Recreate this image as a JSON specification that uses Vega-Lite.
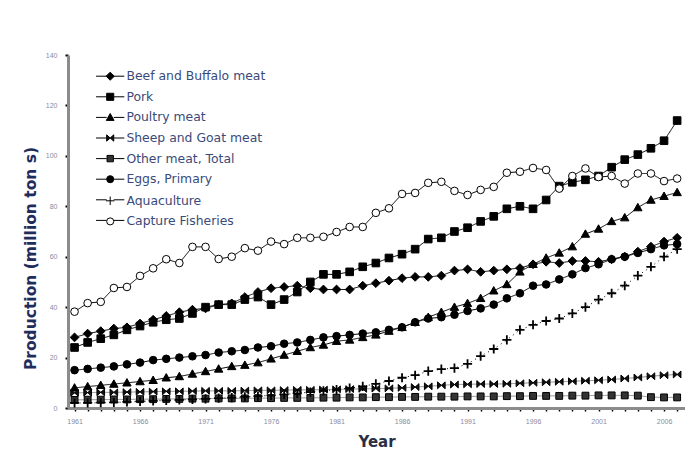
{
  "$schema": "https://vega.github.io/schema/vega-lite/v6.json",
  "width": 617,
  "height": 353,
  "autosize": {"type": "none"},
  "padding": {"left": 68, "top": 55, "right": 0, "bottom": 44},
  "background": "white",
  "config": {"view": {"stroke": null}},
  "datasets": {
    "prod": [
{"year":1961,"series":"Beef and Buffalo meat","value":28},{"year":1962,"series":"Beef and Buffalo meat","value":29.5},{"year":1963,"series":"Beef and Buffalo meat","value":30.5},{"year":1964,"series":"Beef and Buffalo meat","value":31.5},{"year":1965,"series":"Beef and Buffalo meat","value":32},{"year":1966,"series":"Beef and Buffalo meat","value":33.5},{"year":1967,"series":"Beef and Buffalo meat","value":35},{"year":1968,"series":"Beef and Buffalo meat","value":36.5},{"year":1969,"series":"Beef and Buffalo meat","value":38},{"year":1970,"series":"Beef and Buffalo meat","value":39},{"year":1971,"series":"Beef and Buffalo meat","value":39.5},{"year":1972,"series":"Beef and Buffalo meat","value":41},{"year":1973,"series":"Beef and Buffalo meat","value":41.5},{"year":1974,"series":"Beef and Buffalo meat","value":44},{"year":1975,"series":"Beef and Buffalo meat","value":46},{"year":1976,"series":"Beef and Buffalo meat","value":47.5},{"year":1977,"series":"Beef and Buffalo meat","value":48},{"year":1978,"series":"Beef and Buffalo meat","value":48.5},{"year":1979,"series":"Beef and Buffalo meat","value":47.5},{"year":1980,"series":"Beef and Buffalo meat","value":47},{"year":1981,"series":"Beef and Buffalo meat","value":47},{"year":1982,"series":"Beef and Buffalo meat","value":47},{"year":1983,"series":"Beef and Buffalo meat","value":48.5},{"year":1984,"series":"Beef and Buffalo meat","value":49.5},{"year":1985,"series":"Beef and Buffalo meat","value":50.5},{"year":1986,"series":"Beef and Buffalo meat","value":51.5},{"year":1987,"series":"Beef and Buffalo meat","value":52},{"year":1988,"series":"Beef and Buffalo meat","value":52},{"year":1989,"series":"Beef and Buffalo meat","value":52.5},{"year":1990,"series":"Beef and Buffalo meat","value":54.5},{"year":1991,"series":"Beef and Buffalo meat","value":55},{"year":1992,"series":"Beef and Buffalo meat","value":54},{"year":1993,"series":"Beef and Buffalo meat","value":54.5},{"year":1994,"series":"Beef and Buffalo meat","value":55},{"year":1995,"series":"Beef and Buffalo meat","value":55.5},{"year":1996,"series":"Beef and Buffalo meat","value":57},{"year":1997,"series":"Beef and Buffalo meat","value":58},{"year":1998,"series":"Beef and Buffalo meat","value":57.5},{"year":1999,"series":"Beef and Buffalo meat","value":58.3},{"year":2000,"series":"Beef and Buffalo meat","value":58.3},{"year":2001,"series":"Beef and Buffalo meat","value":58},{"year":2002,"series":"Beef and Buffalo meat","value":59},{"year":2003,"series":"Beef and Buffalo meat","value":60},{"year":2004,"series":"Beef and Buffalo meat","value":62},{"year":2005,"series":"Beef and Buffalo meat","value":64},{"year":2006,"series":"Beef and Buffalo meat","value":66},{"year":2007,"series":"Beef and Buffalo meat","value":67.5},
{"year":1961,"series":"Pork","value":24},{"year":1962,"series":"Pork","value":26},{"year":1963,"series":"Pork","value":27.5},{"year":1964,"series":"Pork","value":29},{"year":1965,"series":"Pork","value":31},{"year":1966,"series":"Pork","value":32.5},{"year":1967,"series":"Pork","value":34},{"year":1968,"series":"Pork","value":35},{"year":1969,"series":"Pork","value":35.5},{"year":1970,"series":"Pork","value":37.5},{"year":1971,"series":"Pork","value":40},{"year":1972,"series":"Pork","value":41},{"year":1973,"series":"Pork","value":41},{"year":1974,"series":"Pork","value":43},{"year":1975,"series":"Pork","value":44},{"year":1976,"series":"Pork","value":41},{"year":1977,"series":"Pork","value":43},{"year":1978,"series":"Pork","value":46},{"year":1979,"series":"Pork","value":50},{"year":1980,"series":"Pork","value":53},{"year":1981,"series":"Pork","value":53},{"year":1982,"series":"Pork","value":54},{"year":1983,"series":"Pork","value":56},{"year":1984,"series":"Pork","value":57.5},{"year":1985,"series":"Pork","value":59.5},{"year":1986,"series":"Pork","value":61},{"year":1987,"series":"Pork","value":63},{"year":1988,"series":"Pork","value":67},{"year":1989,"series":"Pork","value":67.5},{"year":1990,"series":"Pork","value":70},{"year":1991,"series":"Pork","value":71.5},{"year":1992,"series":"Pork","value":74},{"year":1993,"series":"Pork","value":76},{"year":1994,"series":"Pork","value":79},{"year":1995,"series":"Pork","value":80},{"year":1996,"series":"Pork","value":79},{"year":1997,"series":"Pork","value":82.5},{"year":1998,"series":"Pork","value":88},{"year":1999,"series":"Pork","value":89.5},{"year":2000,"series":"Pork","value":90.5},{"year":2001,"series":"Pork","value":92},{"year":2002,"series":"Pork","value":95.5},{"year":2003,"series":"Pork","value":98.5},{"year":2004,"series":"Pork","value":100.5},{"year":2005,"series":"Pork","value":103},{"year":2006,"series":"Pork","value":106},{"year":2007,"series":"Pork","value":114},
{"year":1961,"series":"Poultry meat","value":8},{"year":1962,"series":"Poultry meat","value":8.5},{"year":1963,"series":"Poultry meat","value":9},{"year":1964,"series":"Poultry meat","value":9.5},{"year":1965,"series":"Poultry meat","value":10},{"year":1966,"series":"Poultry meat","value":10.5},{"year":1967,"series":"Poultry meat","value":11},{"year":1968,"series":"Poultry meat","value":12},{"year":1969,"series":"Poultry meat","value":12.5},{"year":1970,"series":"Poultry meat","value":13.5},{"year":1971,"series":"Poultry meat","value":14.5},{"year":1972,"series":"Poultry meat","value":15.5},{"year":1973,"series":"Poultry meat","value":16.5},{"year":1974,"series":"Poultry meat","value":17},{"year":1975,"series":"Poultry meat","value":18},{"year":1976,"series":"Poultry meat","value":19.5},{"year":1977,"series":"Poultry meat","value":21},{"year":1978,"series":"Poultry meat","value":22.5},{"year":1979,"series":"Poultry meat","value":24},{"year":1980,"series":"Poultry meat","value":25},{"year":1981,"series":"Poultry meat","value":26.5},{"year":1982,"series":"Poultry meat","value":27},{"year":1983,"series":"Poultry meat","value":28},{"year":1984,"series":"Poultry meat","value":29},{"year":1985,"series":"Poultry meat","value":30.5},{"year":1986,"series":"Poultry meat","value":32},{"year":1987,"series":"Poultry meat","value":34},{"year":1988,"series":"Poultry meat","value":36},{"year":1989,"series":"Poultry meat","value":38},{"year":1990,"series":"Poultry meat","value":40},{"year":1991,"series":"Poultry meat","value":41.5},{"year":1992,"series":"Poultry meat","value":43.5},{"year":1993,"series":"Poultry meat","value":46.5},{"year":1994,"series":"Poultry meat","value":49},{"year":1995,"series":"Poultry meat","value":54},{"year":1996,"series":"Poultry meat","value":57},{"year":1997,"series":"Poultry meat","value":59.5},{"year":1998,"series":"Poultry meat","value":61.5},{"year":1999,"series":"Poultry meat","value":64},{"year":2000,"series":"Poultry meat","value":69},{"year":2001,"series":"Poultry meat","value":71},{"year":2002,"series":"Poultry meat","value":74},{"year":2003,"series":"Poultry meat","value":75.5},{"year":2004,"series":"Poultry meat","value":79.5},{"year":2005,"series":"Poultry meat","value":82.5},{"year":2006,"series":"Poultry meat","value":84},{"year":2007,"series":"Poultry meat","value":85.5},
{"year":1961,"series":"Sheep and Goat meat","value":6},{"year":1962,"series":"Sheep and Goat meat","value":6.1},{"year":1963,"series":"Sheep and Goat meat","value":6.2},{"year":1964,"series":"Sheep and Goat meat","value":6.2},{"year":1965,"series":"Sheep and Goat meat","value":6.3},{"year":1966,"series":"Sheep and Goat meat","value":6.4},{"year":1967,"series":"Sheep and Goat meat","value":6.5},{"year":1968,"series":"Sheep and Goat meat","value":6.6},{"year":1969,"series":"Sheep and Goat meat","value":6.6},{"year":1970,"series":"Sheep and Goat meat","value":6.7},{"year":1971,"series":"Sheep and Goat meat","value":6.8},{"year":1972,"series":"Sheep and Goat meat","value":6.8},{"year":1973,"series":"Sheep and Goat meat","value":6.8},{"year":1974,"series":"Sheep and Goat meat","value":6.9},{"year":1975,"series":"Sheep and Goat meat","value":7},{"year":1976,"series":"Sheep and Goat meat","value":7},{"year":1977,"series":"Sheep and Goat meat","value":7.1},{"year":1978,"series":"Sheep and Goat meat","value":7.2},{"year":1979,"series":"Sheep and Goat meat","value":7.2},{"year":1980,"series":"Sheep and Goat meat","value":7.3},{"year":1981,"series":"Sheep and Goat meat","value":7.4},{"year":1982,"series":"Sheep and Goat meat","value":7.5},{"year":1983,"series":"Sheep and Goat meat","value":7.6},{"year":1984,"series":"Sheep and Goat meat","value":7.7},{"year":1985,"series":"Sheep and Goat meat","value":7.8},{"year":1986,"series":"Sheep and Goat meat","value":8},{"year":1987,"series":"Sheep and Goat meat","value":8.3},{"year":1988,"series":"Sheep and Goat meat","value":8.6},{"year":1989,"series":"Sheep and Goat meat","value":9},{"year":1990,"series":"Sheep and Goat meat","value":9.3},{"year":1991,"series":"Sheep and Goat meat","value":9.4},{"year":1992,"series":"Sheep and Goat meat","value":9.5},{"year":1993,"series":"Sheep and Goat meat","value":9.5},{"year":1994,"series":"Sheep and Goat meat","value":9.6},{"year":1995,"series":"Sheep and Goat meat","value":9.8},{"year":1996,"series":"Sheep and Goat meat","value":10},{"year":1997,"series":"Sheep and Goat meat","value":10.2},{"year":1998,"series":"Sheep and Goat meat","value":10.4},{"year":1999,"series":"Sheep and Goat meat","value":10.6},{"year":2000,"series":"Sheep and Goat meat","value":10.8},{"year":2001,"series":"Sheep and Goat meat","value":11},{"year":2002,"series":"Sheep and Goat meat","value":11.3},{"year":2003,"series":"Sheep and Goat meat","value":11.7},{"year":2004,"series":"Sheep and Goat meat","value":12.1},{"year":2005,"series":"Sheep and Goat meat","value":12.6},{"year":2006,"series":"Sheep and Goat meat","value":13},{"year":2007,"series":"Sheep and Goat meat","value":13.3},
{"year":1961,"series":"Other meat, Total","value":3.2},{"year":1962,"series":"Other meat, Total","value":3.3},{"year":1963,"series":"Other meat, Total","value":3.3},{"year":1964,"series":"Other meat, Total","value":3.4},{"year":1965,"series":"Other meat, Total","value":3.4},{"year":1966,"series":"Other meat, Total","value":3.5},{"year":1967,"series":"Other meat, Total","value":3.5},{"year":1968,"series":"Other meat, Total","value":3.6},{"year":1969,"series":"Other meat, Total","value":3.6},{"year":1970,"series":"Other meat, Total","value":3.7},{"year":1971,"series":"Other meat, Total","value":3.7},{"year":1972,"series":"Other meat, Total","value":3.8},{"year":1973,"series":"Other meat, Total","value":3.8},{"year":1974,"series":"Other meat, Total","value":3.8},{"year":1975,"series":"Other meat, Total","value":3.9},{"year":1976,"series":"Other meat, Total","value":3.9},{"year":1977,"series":"Other meat, Total","value":4},{"year":1978,"series":"Other meat, Total","value":4},{"year":1979,"series":"Other meat, Total","value":4},{"year":1980,"series":"Other meat, Total","value":4.1},{"year":1981,"series":"Other meat, Total","value":4.1},{"year":1982,"series":"Other meat, Total","value":4.2},{"year":1983,"series":"Other meat, Total","value":4.2},{"year":1984,"series":"Other meat, Total","value":4.3},{"year":1985,"series":"Other meat, Total","value":4.3},{"year":1986,"series":"Other meat, Total","value":4.4},{"year":1987,"series":"Other meat, Total","value":4.4},{"year":1988,"series":"Other meat, Total","value":4.5},{"year":1989,"series":"Other meat, Total","value":4.5},{"year":1990,"series":"Other meat, Total","value":4.5},{"year":1991,"series":"Other meat, Total","value":4.6},{"year":1992,"series":"Other meat, Total","value":4.6},{"year":1993,"series":"Other meat, Total","value":4.6},{"year":1994,"series":"Other meat, Total","value":4.7},{"year":1995,"series":"Other meat, Total","value":4.7},{"year":1996,"series":"Other meat, Total","value":4.8},{"year":1997,"series":"Other meat, Total","value":4.8},{"year":1998,"series":"Other meat, Total","value":4.8},{"year":1999,"series":"Other meat, Total","value":4.9},{"year":2000,"series":"Other meat, Total","value":4.9},{"year":2001,"series":"Other meat, Total","value":5},{"year":2002,"series":"Other meat, Total","value":5},{"year":2003,"series":"Other meat, Total","value":5},{"year":2004,"series":"Other meat, Total","value":4.9},{"year":2005,"series":"Other meat, Total","value":4.3},{"year":2006,"series":"Other meat, Total","value":4.2},{"year":2007,"series":"Other meat, Total","value":4.2},
{"year":1961,"series":"Eggs, Primary","value":15},{"year":1962,"series":"Eggs, Primary","value":15.5},{"year":1963,"series":"Eggs, Primary","value":16},{"year":1964,"series":"Eggs, Primary","value":16.5},{"year":1965,"series":"Eggs, Primary","value":17.3},{"year":1966,"series":"Eggs, Primary","value":18},{"year":1967,"series":"Eggs, Primary","value":19},{"year":1968,"series":"Eggs, Primary","value":19.5},{"year":1969,"series":"Eggs, Primary","value":20},{"year":1970,"series":"Eggs, Primary","value":20.5},{"year":1971,"series":"Eggs, Primary","value":21},{"year":1972,"series":"Eggs, Primary","value":22},{"year":1973,"series":"Eggs, Primary","value":22.5},{"year":1974,"series":"Eggs, Primary","value":23},{"year":1975,"series":"Eggs, Primary","value":24},{"year":1976,"series":"Eggs, Primary","value":24.5},{"year":1977,"series":"Eggs, Primary","value":25.5},{"year":1978,"series":"Eggs, Primary","value":26},{"year":1979,"series":"Eggs, Primary","value":27},{"year":1980,"series":"Eggs, Primary","value":28},{"year":1981,"series":"Eggs, Primary","value":28.5},{"year":1982,"series":"Eggs, Primary","value":29},{"year":1983,"series":"Eggs, Primary","value":29.5},{"year":1984,"series":"Eggs, Primary","value":30},{"year":1985,"series":"Eggs, Primary","value":31},{"year":1986,"series":"Eggs, Primary","value":32},{"year":1987,"series":"Eggs, Primary","value":34},{"year":1988,"series":"Eggs, Primary","value":35.5},{"year":1989,"series":"Eggs, Primary","value":36},{"year":1990,"series":"Eggs, Primary","value":37},{"year":1991,"series":"Eggs, Primary","value":38.5},{"year":1992,"series":"Eggs, Primary","value":39.5},{"year":1993,"series":"Eggs, Primary","value":41},{"year":1994,"series":"Eggs, Primary","value":43.5},{"year":1995,"series":"Eggs, Primary","value":45.5},{"year":1996,"series":"Eggs, Primary","value":48.5},{"year":1997,"series":"Eggs, Primary","value":49},{"year":1998,"series":"Eggs, Primary","value":51},{"year":1999,"series":"Eggs, Primary","value":53},{"year":2000,"series":"Eggs, Primary","value":55.5},{"year":2001,"series":"Eggs, Primary","value":57},{"year":2002,"series":"Eggs, Primary","value":59},{"year":2003,"series":"Eggs, Primary","value":60},{"year":2004,"series":"Eggs, Primary","value":61.5},{"year":2005,"series":"Eggs, Primary","value":63},{"year":2006,"series":"Eggs, Primary","value":64.5},{"year":2007,"series":"Eggs, Primary","value":65},
{"year":1961,"series":"Aquaculture","value":2},{"year":1962,"series":"Aquaculture","value":2},{"year":1963,"series":"Aquaculture","value":2.1},{"year":1964,"series":"Aquaculture","value":2.2},{"year":1965,"series":"Aquaculture","value":2.4},{"year":1966,"series":"Aquaculture","value":2.6},{"year":1967,"series":"Aquaculture","value":2.8},{"year":1968,"series":"Aquaculture","value":3},{"year":1969,"series":"Aquaculture","value":3.2},{"year":1970,"series":"Aquaculture","value":3.4},{"year":1971,"series":"Aquaculture","value":3.6},{"year":1972,"series":"Aquaculture","value":3.9},{"year":1973,"series":"Aquaculture","value":4.1},{"year":1974,"series":"Aquaculture","value":4.4},{"year":1975,"series":"Aquaculture","value":4.7},{"year":1976,"series":"Aquaculture","value":5},{"year":1977,"series":"Aquaculture","value":5.4},{"year":1978,"series":"Aquaculture","value":5.8},{"year":1979,"series":"Aquaculture","value":6.3},{"year":1980,"series":"Aquaculture","value":6.8},{"year":1981,"series":"Aquaculture","value":7.3},{"year":1982,"series":"Aquaculture","value":7.9},{"year":1983,"series":"Aquaculture","value":8.6},{"year":1984,"series":"Aquaculture","value":9.6},{"year":1985,"series":"Aquaculture","value":10.7},{"year":1986,"series":"Aquaculture","value":12},{"year":1987,"series":"Aquaculture","value":13},{"year":1988,"series":"Aquaculture","value":14.6},{"year":1989,"series":"Aquaculture","value":15.4},{"year":1990,"series":"Aquaculture","value":15.8},{"year":1991,"series":"Aquaculture","value":17.5},{"year":1992,"series":"Aquaculture","value":20.6},{"year":1993,"series":"Aquaculture","value":23.4},{"year":1994,"series":"Aquaculture","value":27},{"year":1995,"series":"Aquaculture","value":31},{"year":1996,"series":"Aquaculture","value":33},{"year":1997,"series":"Aquaculture","value":34.5},{"year":1998,"series":"Aquaculture","value":35.5},{"year":1999,"series":"Aquaculture","value":37.5},{"year":2000,"series":"Aquaculture","value":40},{"year":2001,"series":"Aquaculture","value":43},{"year":2002,"series":"Aquaculture","value":45.5},{"year":2003,"series":"Aquaculture","value":48.5},{"year":2004,"series":"Aquaculture","value":52.5},{"year":2005,"series":"Aquaculture","value":56},{"year":2006,"series":"Aquaculture","value":60},{"year":2007,"series":"Aquaculture","value":63},
{"year":1961,"series":"Capture Fisheries","value":38.2},{"year":1962,"series":"Capture Fisheries","value":41.6},{"year":1963,"series":"Capture Fisheries","value":42.1},{"year":1964,"series":"Capture Fisheries","value":47.6},{"year":1965,"series":"Capture Fisheries","value":48},{"year":1966,"series":"Capture Fisheries","value":52.4},{"year":1967,"series":"Capture Fisheries","value":55.4},{"year":1968,"series":"Capture Fisheries","value":59},{"year":1969,"series":"Capture Fisheries","value":57.5},{"year":1970,"series":"Capture Fisheries","value":63.9},{"year":1971,"series":"Capture Fisheries","value":63.9},{"year":1972,"series":"Capture Fisheries","value":59.1},{"year":1973,"series":"Capture Fisheries","value":60},{"year":1974,"series":"Capture Fisheries","value":63.4},{"year":1975,"series":"Capture Fisheries","value":62.4},{"year":1976,"series":"Capture Fisheries","value":66},{"year":1977,"series":"Capture Fisheries","value":65},{"year":1978,"series":"Capture Fisheries","value":67.5},{"year":1979,"series":"Capture Fisheries","value":67.5},{"year":1980,"series":"Capture Fisheries","value":67.9},{"year":1981,"series":"Capture Fisheries","value":69.8},{"year":1982,"series":"Capture Fisheries","value":71.8},{"year":1983,"series":"Capture Fisheries","value":71.8},{"year":1984,"series":"Capture Fisheries","value":77.4},{"year":1985,"series":"Capture Fisheries","value":79.2},{"year":1986,"series":"Capture Fisheries","value":84.9},{"year":1987,"series":"Capture Fisheries","value":85.3},{"year":1988,"series":"Capture Fisheries","value":89.3},{"year":1989,"series":"Capture Fisheries","value":89.7},{"year":1990,"series":"Capture Fisheries","value":86.1},{"year":1991,"series":"Capture Fisheries","value":84.5},{"year":1992,"series":"Capture Fisheries","value":86.5},{"year":1993,"series":"Capture Fisheries","value":87.7},{"year":1994,"series":"Capture Fisheries","value":93.3},{"year":1995,"series":"Capture Fisheries","value":93.7},{"year":1996,"series":"Capture Fisheries","value":95.2},{"year":1997,"series":"Capture Fisheries","value":94.4},{"year":1998,"series":"Capture Fisheries","value":87},{"year":1999,"series":"Capture Fisheries","value":92},{"year":2000,"series":"Capture Fisheries","value":95},{"year":2001,"series":"Capture Fisheries","value":91.6},{"year":2002,"series":"Capture Fisheries","value":92},{"year":2003,"series":"Capture Fisheries","value":89},{"year":2004,"series":"Capture Fisheries","value":93},{"year":2005,"series":"Capture Fisheries","value":93},{"year":2006,"series":"Capture Fisheries","value":90},{"year":2007,"series":"Capture Fisheries","value":91}
    ]
  },
  "data": {"name": "prod"},
  "encoding": {
    "x": {
      "field": "year", "type": "quantitative",
      "scale": {"domain": [1960.5, 2007.6], "nice": false, "zero": false},
      "axis": {
        "title": "Year",
        "values": [1961,1962,1963,1964,1965,1966,1967,1968,1969,1970,1971,1972,1973,1974,1975,1976,1977,1978,1979,1980,1981,1982,1983,1984,1985,1986,1987,1988,1989,1990,1991,1992,1993,1994,1995,1996,1997,1998,1999,2000,2001,2002,2003,2004,2005,2006,2007],
        "labelExpr": "(datum.value - 1961) % 5 === 0 ? format(datum.value, 'd') : ''",
        "labelOverlap": false,
        "labelFont": "Liberation Sans", "labelFontSize": 7, "labelColor": "#8a8aa0",
        "labelPadding": 6,
        "domainColor": "#8c8c8c", "domainWidth": 3,
        "tickColor": "#000000", "tickWidth": 1.5, "tickSize": 3,
        "grid": false,
        "titleFont": "DejaVu Sans", "titleFontSize": 15, "titleFontWeight": "bold", "titleColor": "#2a2f45",
        "titlePadding": 10
      }
    },
    "y": {
      "field": "value", "type": "quantitative",
      "scale": {"domain": [0, 140], "nice": false},
      "axis": {
        "title": "Production (million ton s)",
        "values": [0,20,40,60,80,100,120,140],
        "labelFont": "Liberation Sans", "labelFontSize": 7, "labelColor": "#8a8aa0",
        "labelPadding": 8,
        "domainColor": "#8c8c8c", "domainWidth": 3,
        "tickColor": "#000000", "tickWidth": 2, "tickSize": 3,
        "grid": false,
        "titleFont": "DejaVu Sans", "titleFontSize": 15.5, "titleFontWeight": "bold", "titleColor": "#1f2d5c",
        "titleX": -38, "titleY": 203, "titleAlign": "center", "titleBaseline": "middle", "titleAngle": -90
      }
    }
  },
  "layer": [
    {
      "mark": {"type": "line", "strokeWidth": 1},
      "encoding": {
        "detail": {"field": "series"},
        "stroke": {
          "condition": {"test": "datum.series !== 'Sheep and Goat meat' && datum.series !== 'Other meat, Total'", "value": "#000000"},
          "value": "#888888"
        },
        "strokeDash": {
          "condition": {"test": "datum.series !== 'Aquaculture'", "value": [1, 0]},
          "value": [1, 4]
        },
        "opacity": {
          "field": "series", "type": "nominal",
          "scale": {
            "domain": ["Capture Fisheries","Aquaculture","Eggs, Primary","Other meat, Total","Sheep and Goat meat","Poultry meat","Pork","Beef and Buffalo meat"],
            "range": [1,1,1,1,1,1,1,1]
          },
          "legend": {
            "title": null,
            "values": ["Beef and Buffalo meat","Pork","Poultry meat","Sheep and Goat meat","Other meat, Total","Eggs, Primary","Aquaculture","Capture Fisheries"],
            "orient": "top-left", "offset": 15,
            "padding": 0,
            "symbolType": "M-4,0H-1M1,0H4",
            "symbolSize": 50,
            "symbolOffset": 21,
            "symbolStrokeColor": "#000000",
            "symbolStrokeWidth": 1,
            "symbolFillColor": "transparent",
            "symbolOpacity": 1,
            "labelFont": "DejaVu Sans", "labelFontSize": 12.4, "labelColor": "#3a4a7a",
            "labelOpacity": 0,
            "labelOffset": 10,
            "rowPadding": 7.6
          }
        }
      }
    },
    {
      "mark": {"type": "point", "filled": false, "strokeWidth": 1, "size": 58, "opacity": 1},
      "encoding": {
        "shape": {
          "field": "series", "type": "nominal",
          "scale": {
            "domain": ["Beef and Buffalo meat","Pork","Poultry meat","Sheep and Goat meat","Other meat, Total","Eggs, Primary","Aquaculture","Capture Fisheries"],
            "range": ["M0,-1.15L1.15,0L0,1.15L-1.15,0Z","M-1,-1H1V1H-1Z","M0,-1.1L1.1,0.85L-1.1,0.85Z","M-1,-0.9L0,0L-1,0.9ZM1,-0.9L0,0L1,0.9Z","M-0.9,-0.9H0.9V0.9H-0.9Z","circle","M-1.2,0H1.2M0,-1.2V1.2","circle"]
          },
          "legend": {
            "title": null,
            "orient": "none", "legendX": 36, "legendY": 15,
            "padding": 0,
            "symbolSize": 50,
            "symbolStrokeWidth": 1,
            "symbolOpacity": 1,
            "labelFont": "DejaVu Sans", "labelFontSize": 12.4, "labelColor": "#3a4a7a",
            "labelOffset": 10,
            "rowPadding": 7.6
          }
        },
        "fill": {
          "field": "series", "type": "nominal",
          "scale": {
            "domain": ["Beef and Buffalo meat","Pork","Poultry meat","Sheep and Goat meat","Other meat, Total","Eggs, Primary","Aquaculture","Capture Fisheries"],
            "range": ["#000000","#000000","#000000","#111111","#333333","#000000","#000000","#ffffff"]
          },
          "legend": {
            "title": null,
            "orient": "none", "legendX": 36, "legendY": 15,
            "padding": 0,
            "symbolSize": 50,
            "symbolStrokeWidth": 1,
            "symbolOpacity": 1,
            "labelFont": "DejaVu Sans", "labelFontSize": 12.4, "labelColor": "#3a4a7a",
            "labelOffset": 10,
            "rowPadding": 7.6
          }
        },
        "stroke": {
          "field": "series", "type": "nominal",
          "scale": {
            "domain": ["Beef and Buffalo meat","Pork","Poultry meat","Sheep and Goat meat","Other meat, Total","Eggs, Primary","Aquaculture","Capture Fisheries"],
            "range": ["#000000","#000000","#000000","#000000","#000000","#000000","#000000","#000000"]
          },
          "legend": {
            "title": null,
            "orient": "none", "legendX": 36, "legendY": 15,
            "padding": 0,
            "symbolSize": 50,
            "symbolStrokeWidth": 1,
            "symbolOpacity": 1,
            "labelFont": "DejaVu Sans", "labelFontSize": 12.4, "labelColor": "#3a4a7a",
            "labelOffset": 10,
            "rowPadding": 7.6
          }
        },
        "strokeWidth": {
          "condition": {"test": "datum.series === 'Aquaculture'", "value": 1.8},
          "value": 1
        }
      }
    }
  ]
}
